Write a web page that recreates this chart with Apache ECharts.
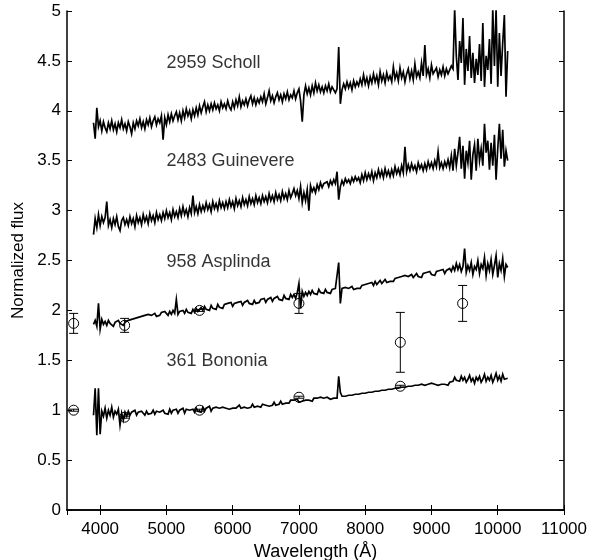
<!DOCTYPE html>
<html><head><meta charset="utf-8">
<script src="https://cdn.jsdelivr.net/npm/echarts@6/dist/echarts.min.js"></script>
<style>html,body{margin:0;padding:0;background:#fff}#c{width:592px;height:560px}</style>
</head><body><div id="c"></div>
<script>
const wavelength = [
3900,3925,3950,3975,4000,4025,4050,4075,4100,4125,4150,4175,4200,4225,4250,4275,4300,4325,4350,4375,
4400,4425,4450,4475,4500,4525,4550,4575,4600,4625,4650,4675,4700,4725,4750,4775,4800,4825,4850,4875,
4900,4925,4950,4975,5000,5025,5050,5075,5100,5125,5150,5175,5200,5225,5250,5275,5300,5325,5350,5375,
5400,5425,5450,5475,5500,5525,5550,5575,5600,5625,5650,5675,5700,5725,5750,5775,5800,5825,5850,5875,
5900,5925,5950,5975,6000,6025,6050,6075,6100,6125,6150,6175,6200,6225,6250,6275,6300,6325,6350,6375,
6400,6425,6450,6475,6500,6525,6550,6575,6600,6625,6650,6675,6700,6725,6750,6775,6800,6825,6850,6875,
6900,6925,6950,6975,7000,7025,7050,7075,7100,7125,7150,7175,7200,7225,7250,7275,7300,7325,7350,7375,
7400,7425,7450,7475,7500,7525,7550,7575,7600,7625,7650,7675,7700,7725,7750,7775,7800,7825,7850,7875,
7900,7925,7950,7975,8000,8025,8050,8075,8100,8125,8150,8175,8200,8225,8250,8275,8300,8325,8350,8375,
8400,8425,8450,8475,8500,8525,8550,8575,8600,8625,8650,8675,8700,8725,8750,8775,8800,8825,8850,8875,
8900,8925,8950,8975,9000,9025,9050,9075,9100,9125,9150,9175,9200,9225,9250,9275,9300,9325,9350,9375,
9400,9425,9450,9475,9500,9525,9550,9575,9600,9625,9650,9675,9700,9725,9750,9775,9800,9825,9850,9875,
9900,9925,9950,9975,10000,10025,10050,10075,10100,10125,10150];

const fluxScholl = [
3.88,3.72,4.03,3.84,3.90,3.80,3.89,3.83,3.79,3.88,3.82,3.90,3.81,3.87,3.79,3.88,3.83,3.91,3.82,3.87,
3.80,3.89,3.84,3.77,3.88,3.82,3.90,3.85,3.92,3.83,3.89,3.82,3.91,3.86,3.93,3.84,3.90,3.94,3.86,3.92,
3.88,3.95,3.71,3.93,3.86,3.96,3.89,3.97,3.90,3.95,3.99,3.91,3.98,3.90,4.00,3.93,4.02,3.95,4.00,3.92,
4.01,3.95,4.03,3.96,4.05,3.98,4.04,4.09,3.99,4.06,4.00,4.07,4.01,4.08,4.02,4.06,4.00,4.09,4.03,4.07,
4.02,4.10,4.04,4.01,4.09,4.03,4.11,4.05,4.14,4.04,4.10,4.06,4.12,4.05,4.11,4.15,4.07,4.13,4.06,4.12,
4.08,4.14,4.09,4.17,4.07,4.13,4.20,4.10,4.15,4.08,4.14,4.18,4.11,4.16,4.09,4.17,4.12,4.19,4.11,4.16,
4.13,4.20,4.12,4.18,4.22,4.10,3.89,4.16,4.25,4.17,4.23,4.16,4.25,4.18,4.28,4.20,4.26,4.19,4.24,4.18,
4.25,4.20,4.27,4.19,4.24,4.26,4.18,4.22,4.64,4.07,4.21,4.27,4.22,4.29,4.23,4.28,4.21,4.30,4.24,4.29,
4.25,4.32,4.26,4.36,4.27,4.33,4.25,4.34,4.28,4.37,4.29,4.35,4.26,4.39,4.30,4.36,4.28,4.38,4.31,4.35,
4.29,4.44,4.32,4.38,4.30,4.43,4.33,4.39,4.29,4.37,4.42,4.32,4.40,4.31,4.47,4.34,4.39,4.33,4.48,4.35,
4.66,4.36,4.42,4.33,4.46,4.37,4.35,4.43,4.34,4.41,4.36,4.44,4.35,4.42,4.37,4.41,4.45,4.42,5.02,4.55,
4.31,4.70,4.48,4.93,4.26,4.62,4.40,4.75,4.33,4.58,4.28,4.52,4.36,4.67,4.30,4.88,4.24,4.55,4.41,4.72,
4.27,5.02,4.45,5.02,4.24,4.78,4.35,4.68,4.96,4.14,4.60];

const fluxGuinevere = [
2.76,2.92,2.83,2.96,2.85,2.94,2.88,2.93,3.09,2.85,2.91,2.83,2.92,2.86,2.94,2.84,2.80,2.90,2.93,2.86,
2.91,2.85,2.94,2.87,2.92,2.84,2.95,2.88,2.93,2.86,2.96,2.89,2.94,2.87,2.97,2.90,2.95,2.88,2.98,2.91,
2.96,2.90,2.98,2.92,3.00,2.93,2.98,2.91,3.01,2.94,2.99,2.93,3.02,2.95,3.04,2.96,3.01,2.94,3.03,2.97,
3.15,2.98,3.04,2.97,3.06,2.99,3.05,3.00,3.08,3.01,3.06,2.99,3.09,3.02,3.07,3.01,3.10,3.03,3.08,3.02,
3.09,3.03,3.11,3.04,3.09,3.02,3.12,3.05,3.10,3.04,3.13,3.06,3.11,3.05,3.14,3.07,3.12,3.06,3.15,3.08,
3.13,3.07,3.15,3.09,3.14,3.08,3.17,3.10,3.15,3.09,3.18,3.11,3.16,3.10,3.19,3.12,3.17,3.11,3.20,3.13,
3.17,3.22,3.15,3.20,3.12,3.24,3.08,3.18,3.10,3.21,3.00,3.25,3.19,3.23,3.18,3.26,3.21,3.28,3.23,3.27,
3.25,3.29,3.24,3.30,3.26,3.31,3.27,3.39,3.11,3.24,3.30,3.26,3.32,3.28,3.31,3.27,3.33,3.29,3.34,3.30,
3.33,3.28,3.36,3.30,3.38,3.31,3.37,3.32,3.39,3.30,3.38,3.33,3.41,3.34,3.40,3.33,3.42,3.35,3.40,3.34,
3.41,3.35,3.44,3.37,3.42,3.36,3.45,3.38,3.64,3.39,3.46,3.40,3.47,3.41,3.45,3.39,3.48,3.42,3.46,3.40,
3.47,3.41,3.49,3.43,3.48,3.42,3.50,3.44,3.59,3.43,3.48,3.42,3.49,3.44,3.51,3.43,3.55,3.40,3.62,3.45,
3.58,3.74,3.42,3.65,3.32,3.60,3.48,3.70,3.31,3.56,3.66,3.40,3.72,3.50,3.62,3.45,3.87,3.58,3.70,3.41,
3.68,3.45,3.76,3.31,3.62,3.87,3.52,3.81,3.44,3.60,3.50];

const fluxAsplinda = [
1.86,1.90,1.84,2.07,1.81,1.91,1.86,1.89,1.85,1.90,1.87,1.89,1.84,1.88,1.86,1.90,1.87,1.89,1.85,1.88,
1.87,1.90,1.88,1.91,1.89,1.92,1.90,1.93,1.91,1.94,1.92,1.95,1.93,1.96,1.94,1.95,1.93,1.97,1.94,1.96,
1.95,1.98,1.96,1.99,1.97,1.95,1.99,1.96,2.00,1.97,2.11,1.96,1.99,1.98,2.00,1.97,2.01,1.98,2.00,1.97,
2.01,1.98,2.02,1.99,2.01,2.03,2.00,2.04,2.01,2.03,2.00,2.05,2.02,2.04,2.01,2.06,2.03,2.05,2.02,2.06,
2.04,2.07,2.05,2.08,2.04,2.07,2.05,2.08,2.06,2.09,2.05,2.08,2.06,2.10,2.07,2.09,2.06,2.10,2.07,2.09,
2.08,2.11,2.09,2.12,2.08,2.11,2.10,2.13,2.09,2.12,2.10,2.14,2.11,2.13,2.10,2.15,2.12,2.14,2.11,2.16,
2.13,2.16,2.12,2.18,2.27,2.02,2.19,2.14,2.18,2.15,2.19,2.16,2.20,2.17,2.19,2.16,2.21,2.18,2.20,2.17,
2.21,2.18,2.20,2.17,2.21,2.19,2.22,2.20,2.48,2.07,2.22,2.20,2.23,2.21,2.22,2.20,2.24,2.21,2.23,2.22,
2.24,2.22,2.25,2.23,2.26,2.24,2.27,2.25,2.28,2.25,2.29,2.26,2.28,2.30,2.27,2.29,2.31,2.28,2.30,2.29,
2.31,2.29,2.32,2.30,2.33,2.31,2.34,2.32,2.35,2.33,2.34,2.32,2.36,2.33,2.35,2.37,2.34,2.36,2.33,2.37,
2.35,2.38,2.36,2.39,2.36,2.38,2.35,2.39,2.37,2.40,2.38,2.41,2.37,2.40,2.38,2.42,2.39,2.44,2.40,2.47,
2.41,2.46,2.39,2.44,2.62,2.38,2.45,2.40,2.48,2.36,2.44,2.41,2.50,2.37,2.46,2.42,2.53,2.35,2.47,2.40,
2.51,2.36,2.45,2.55,2.33,2.47,2.40,2.52,2.34,2.46,2.43];

const fluxBononia = [
0.95,1.22,0.75,1.22,0.76,0.99,0.94,1.02,0.92,1.00,0.95,1.03,0.93,0.99,0.96,1.01,0.85,0.97,0.90,0.98,
0.94,0.99,0.95,0.98,0.96,1.00,0.95,0.98,0.96,0.99,0.97,0.95,0.99,0.96,0.98,0.97,1.00,0.96,0.99,0.97,
0.98,0.96,1.00,0.97,0.99,0.96,1.01,0.97,1.00,0.98,1.01,0.97,1.00,0.98,1.02,0.97,1.01,0.99,1.00,0.98,
1.01,0.98,1.02,0.99,1.01,0.98,1.03,0.99,1.02,1.00,1.04,0.99,1.02,1.00,1.03,1.01,1.02,1.00,1.03,1.01,
1.02,1.04,1.01,1.03,1.02,1.04,1.02,1.03,1.05,1.02,1.04,1.03,1.05,1.02,1.04,1.03,1.06,1.03,1.05,1.04,
1.05,1.03,1.06,1.04,1.05,1.07,1.04,1.06,1.05,1.08,1.05,1.07,1.06,1.09,1.06,1.08,1.07,1.09,1.07,1.10,
1.08,1.10,1.09,1.11,1.08,1.10,1.09,1.11,1.10,1.12,1.10,1.11,1.09,1.12,1.10,1.12,1.11,1.13,1.11,1.12,
1.11,1.13,1.12,1.11,1.13,1.12,1.11,1.12,1.34,1.18,1.14,1.13,1.14,1.13,1.15,1.14,1.15,1.14,1.16,1.15,
1.16,1.15,1.17,1.16,1.17,1.16,1.18,1.17,1.18,1.17,1.19,1.18,1.19,1.18,1.20,1.19,1.20,1.19,1.21,1.20,
1.21,1.20,1.22,1.21,1.22,1.21,1.23,1.22,1.23,1.22,1.24,1.23,1.24,1.23,1.25,1.24,1.25,1.24,1.26,1.25,
1.25,1.24,1.26,1.25,1.27,1.25,1.26,1.28,1.25,1.27,1.26,1.28,1.26,1.27,1.25,1.28,1.27,1.29,1.33,1.30,
1.32,1.29,1.34,1.30,1.33,1.28,1.31,1.35,1.29,1.32,1.27,1.33,1.30,1.34,1.28,1.31,1.36,1.29,1.33,1.30,
1.35,1.28,1.32,1.37,1.30,1.34,1.29,1.36,1.31,1.33,1.32];

const photWavelength = [3600, 4370, 5500, 7000, 8530, 9470];
const photAsplinda = [1.87, 1.85, 2.00, 2.07, 1.68, 2.07];
const photAsplindaErr = [0.10, 0.07, 0.01, 0.10, 0.30, 0.18];
const photBononia = [1.00, 0.93, 1.00, 1.13, 1.24];
const photBononiaErr = [0.01, 0.01, 0.01, 0.01, 0.01];

const labelNames = ['2959 Scholl', '2483 Guinevere', '958 Asplinda', '361 Bononia'];
const labelX = [5000, 5000, 5000, 5000];
const labelY = [4.48, 3.5, 2.48, 1.49];

const FONT = "'Liberation Sans', Arial, Helvetica, sans-serif";
const chart = echarts.init(document.getElementById('c'), null, {renderer: 'canvas'});

function pairs(xs, ys) { const n = Math.min(xs.length, ys.length); const out = []; for (let i = 0; i < n; i++) out.push([xs[i], ys[i]]); return out; }
function triples(xs, ys, es) { const out = []; for (let i = 0; i < ys.length; i++) out.push([xs[i], ys[i], es[i]]); return out; }

function spectrum(name, ys) {
  return { name, type: 'line', data: pairs(wavelength, ys), showSymbol: false, symbol: 'none',
    lineStyle: { color: '#000', width: 1.7, join: 'miter' }, animation: false, z: 3 };
}

function errRender(params, api) {
  const x = api.value(0), y = api.value(1), e = api.value(2);
  const p = api.coord([x, y]);
  const t = api.coord([x, y + e]);
  const b = api.coord([x, y - e]);
  const cap = 4.5, r = 5;
  const st = { stroke: '#000', lineWidth: 1, fill: null };
  return { type: 'group', children: [
    { type: 'line', shape: { x1: p[0], y1: t[1], x2: p[0], y2: b[1] }, style: st },
    { type: 'line', shape: { x1: p[0] - cap, y1: t[1], x2: p[0] + cap, y2: t[1] }, style: st },
    { type: 'line', shape: { x1: p[0] - cap, y1: b[1], x2: p[0] + cap, y2: b[1] }, style: st },
    { type: 'circle', shape: { cx: p[0], cy: p[1], r: r }, style: { stroke: '#000', lineWidth: 1, fill: null } }
  ]};
}

const axisLineStyle = { color: '#000', width: 1.5 };
const tickStyle = { show: true, inside: true, length: 5, lineStyle: { color: '#000', width: 1 } };

chart.setOption({
  animation: false,
  backgroundColor: '#fff',
  grid: { left: 67, top: 11, right: 28, bottom: 50, containLabel: false, outerBoundsMode: 'none' },
  xAxis: [
    { type: 'value', position: 'bottom', min: 3500, max: 11000, splitNumber: 8,
      name: 'Wavelength (Å)', nameLocation: 'middle', nameGap: 30,
      nameTextStyle: { color: '#000', fontSize: 18, fontFamily: FONT },
      axisLine: { show: true, lineStyle: axisLineStyle }, axisTick: tickStyle,
      axisLabel: { color: '#000', fontSize: 17, fontFamily: FONT, margin: 11, showMinLabel: false,
        formatter: v => String(v) },
      splitLine: { show: false } },
    { type: 'value', position: 'top', min: 3500, max: 11000, splitNumber: 8,
      axisLine: { show: true, lineStyle: axisLineStyle }, axisTick: tickStyle,
      axisLabel: { show: false }, splitLine: { show: false } }
  ],
  yAxis: [
    { type: 'value', position: 'left', min: 0, max: 5, interval: 0.5,
      name: 'Normalized flux', nameLocation: 'middle', nameGap: 40,
      nameTextStyle: { color: '#000', fontSize: 17, fontFamily: FONT },
      axisLine: { show: true, lineStyle: axisLineStyle }, axisTick: tickStyle,
      axisLabel: { color: '#000', fontSize: 17, fontFamily: FONT, margin: 6, formatter: v => String(v) },
      splitLine: { show: false } },
    { type: 'value', position: 'right', min: 0, max: 5, interval: 0.5,
      axisLine: { show: true, lineStyle: axisLineStyle }, axisTick: tickStyle,
      axisLabel: { show: false }, splitLine: { show: false } }
  ],
  series: [
    spectrum('2959 Scholl', fluxScholl),
    spectrum('2483 Guinevere', fluxGuinevere),
    spectrum('958 Asplinda', fluxAsplinda),
    spectrum('361 Bononia', fluxBononia),
    { type: 'custom', name: 'Asplinda photometry', renderItem: errRender,
      data: triples(photWavelength, photAsplinda, photAsplindaErr), z: 4, clip: true },
    { type: 'custom', name: 'Bononia photometry', renderItem: errRender,
      data: triples(photWavelength, photBononia, photBononiaErr), z: 4, clip: true },
    { type: 'scatter', name: 'labels', symbolSize: 0, silent: true,
      data: labelNames.map((n, i) => ({ value: [labelX[i], labelY[i]], name: n })),
      label: { show: true, position: 'right', distance: 0, formatter: '{b}',
        color: '#000', fontSize: 18, fontFamily: FONT } }
  ]
});
</script>
</body></html>
